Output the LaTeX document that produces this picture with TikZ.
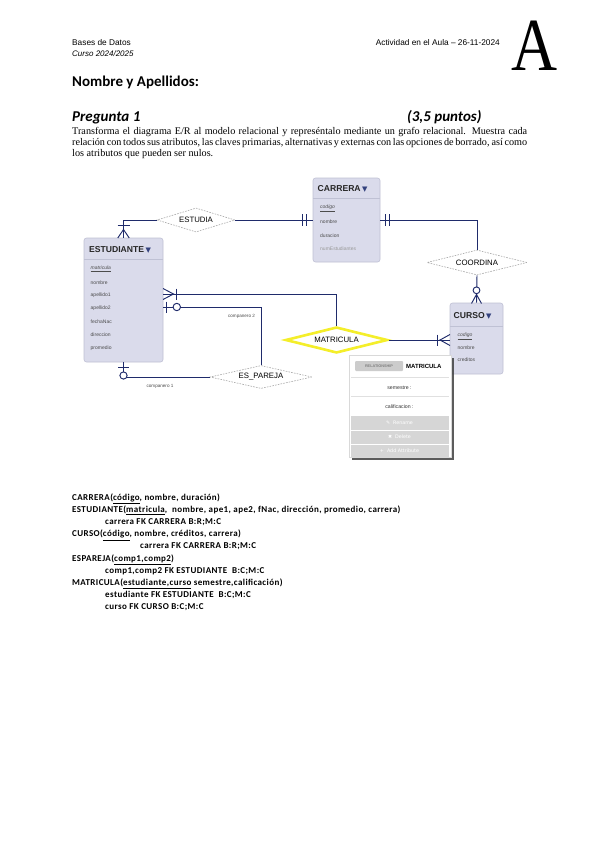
\documentclass[tikz,border=0pt]{standalone}
\usepackage{fontspec}
\setmainfont{Liberation Serif}
\newfontfamily\arialf{Liberation Sans}
\newfontfamily\calf{Carlito}
\newfontfamily\calsp[LetterSpace=4.5]{Carlito}
\newfontfamily\djv{DejaVu Sans}
\usetikzlibrary{shapes.geometric,shadows}
\definecolor{navy}{HTML}{1F2B6B}
\definecolor{entfill}{HTML}{DADBEB}
\definecolor{entdraw}{HTML}{BFC1D4}
\definecolor{dgray}{HTML}{A8A8A8}
\definecolor{yel}{HTML}{F4EE2A}
\definecolor{tri}{HTML}{34427E}
\tikzset{
  entity/.style={draw=entdraw, fill=entfill, rounded corners=2.5, inner sep=0, line width=0.6},
  rel/.style={diamond, aspect=3.3, draw=dgray, fill=white, dash pattern=on 1.6pt off 1.2pt, line width=0.6, inner sep=0, font=\arialf\fontsize{7.8}{9}\selectfont},
  relsel/.style={diamond, aspect=3.3, draw=yel, fill=white, line width=2.6, inner sep=0, font=\arialf\fontsize{7.8}{9}\selectfont},
  conn/.style={draw=navy, line width=0.95},
  cmark/.style={draw=navy, line width=0.95},
  ring/.style={draw=navy, line width=0.95, fill=white},
  ehead/.style={font=\arialf\bfseries\fontsize{8.6}{9}\selectfont, anchor=west, inner sep=0, text=black!85},
  eattr/.style={font=\arialf\fontsize{5}{6}\selectfont, anchor=west, inner sep=0, text=black!70},
  elabel/.style={font=\arialf\fontsize{4.6}{5}\selectfont, inner sep=0, text=black!70},
  rtext/.style={font=\calsp\bfseries\fontsize{9}{10}\selectfont, anchor=base west, inner sep=0},
  ptext/.style={font=\arialf\fontsize{5.2}{6}\selectfont, inner sep=0, text=black!80},
  pmenu/.style={font=\djv\fontsize{4.8}{6}\selectfont, inner sep=0, text=white}
}
\begin{document}
\begin{tikzpicture}[x=1pt,y=-1pt]
\useasboundingbox (0,0) rectangle (600,848);
\fill[white] (0,0) rectangle (600,848);

% ---------- header ----------
\node[anchor=base west, inner sep=0, font=\arialf\fontsize{8.3}{9}\selectfont] (hbd) at (72,46) {Bases de Datos};
\node[anchor=base west, inner sep=0, font=\arialf\itshape\fontsize{8}{9}\selectfont] (hcur) at (72,56.5) {Curso 2024/2025};
\node[anchor=base east, inner sep=0, font=\arialf\fontsize{8.3}{9}\selectfont] (hact) at (500,46) {Actividad en el Aula – 26-11-2024};
\node[anchor=base, inner sep=0, xscale=0.85, font=\fontsize{75}{75}\selectfont] (bigA) at (534.5,71) {A};
\node[anchor=base west, inner sep=0, font=\calf\bfseries\fontsize{15}{16}\selectfont] (nom) at (72,87) {Nombre y Apellidos:};
\node[anchor=base west, inner sep=0, font=\calf\bfseries\itshape\fontsize{15}{16}\selectfont] (preg) at (72,121.5) {Pregunta 1};
\node[anchor=base west, inner sep=0, font=\calf\bfseries\itshape\fontsize{15}{16}\selectfont] (pts) at (407,121.5) {(3,5 puntos)};
\node[anchor=north west, inner sep=0, text width=455, align=justify, font=\fontsize{10.2}{11}\selectfont] (enun) at (72,127.5)
 {Transforma el diagrama E/R al modelo relacional y represéntalo mediante un grafo relacional. Muestra cada\linebreak relación con todos sus atributos, las claves primarias, alternativas y externas con las opciones de borrado, así como\linebreak los atributos que pueden ser nulos.};

% ---------- entities ----------
\node[entity, minimum width=67, minimum height=84] (carrera) at (346.5,220) {};
\node[entity, minimum width=79, minimum height=124] (estudiante) at (123.5,300) {};
\node[entity, minimum width=53, minimum height=71] (curso) at (476.5,338.5) {};

\draw[entdraw, line width=0.5] (313,198.5) -- (380,198.5);
\draw[entdraw, line width=0.5] (84,259) -- (163,259);
\draw[entdraw, line width=0.5] (450,326) -- (503,326);

\node[ehead] (hcarrera) at (317.5,189) {CARRERA\,{\djv\color{tri}\fontsize{7}{8}\selectfont ▼}};
\node[ehead] (hestud) at (89,250) {ESTUDIANTE\,{\djv\color{tri}\fontsize{7}{8}\selectfont ▼}};
\node[ehead] (hcurso) at (453.5,316) {CURSO\,{\djv\color{tri}\fontsize{7}{8}\selectfont ▼}};

\node[eattr] (ca1) at (320,208) {\itshape\underline{codigo}};
\node[eattr] (ca2) at (320,222) {nombre};
\node[eattr] (ca3) at (320,235.5) {duracion};
\node[eattr, text=black!40] (ca4) at (320,249) {numEstudiantes};

\node[eattr] (ea1) at (90.5,269) {\itshape\underline{matricula}};
\node[eattr] (ea2) at (90.5,282.5) {nombre};
\node[eattr] (ea3) at (90.5,295.5) {apellido1};
\node[eattr] (ea4) at (90.5,308.5) {apellido2};
\node[eattr] (ea5) at (90.5,321.5) {fechaNac};
\node[eattr] (ea6) at (90.5,335) {direccion};
\node[eattr] (ea7) at (90.5,348) {promedio};

\node[eattr] (cu1) at (457.5,336.5) {\itshape\underline{codigo}};
\node[eattr] (cu2) at (457.5,348) {nombre};
\node[eattr] (cu3) at (457.5,360) {creditos};

% ---------- relationships ----------
\node[rel, minimum width=78, minimum height=24] (estudia) at (196,220) {ESTUDIA};
\node[rel, minimum width=100, minimum height=25] (coordina) at (477,262.5) {COORDINA};
\node[rel, minimum width=102, minimum height=23] (espareja) at (261,377) {ES\_PAREJA};
\node[relsel, minimum width=102, minimum height=26] (matricula) at (336.5,340) {MATRICULA};

% ---------- connectors ----------
\draw[conn] (estudia.west) -| (estudiante.north);
\draw[conn] (estudia.east) -- (carrera.west);
\draw[conn] (carrera.east) -| (coordina.north);
\draw[conn] (coordina.south) -- (curso.north);
\draw[conn] (estudiante.east |- 0,294) -| (matricula.north);
\draw[conn] (estudiante.east |- 0,307) -| (espareja.north);
\draw[conn] (estudiante.south) |- (espareja.west);
\draw[conn] (matricula.east) -- (curso.west |- matricula.east);

% ---------- cardinality marks ----------
\draw[cmark] (117.5,225.7) -- (129.5,225.7);
\draw[cmark] (117.8,238) -- (123.5,229.5) -- (129.2,238);
\draw[cmark] (302,214) -- (302,226) (306,214) -- (306,226);
\draw[cmark] (385.5,214) -- (385.5,226) (389.5,214) -- (389.5,226);
\draw[cmark] (471.5,303.5) -- (476.5,294.5) -- (481.5,303.5);
\draw[ring] (476.5,290.3) circle (3.4);
\draw[cmark] (163,288.5) -- (173.5,294) -- (163,299.5);
\draw[cmark] (176,288.5) -- (176,299.5);
\draw[cmark] (166,301.5) -- (166,312.5);
\draw[ring] (176.8,307) circle (3.7);
\draw[cmark] (118,367.3) -- (129,367.3);
\draw[ring] (123.5,375.5) circle (3.6);
\draw[cmark] (437,334.5) -- (437,345.5);
\draw[cmark] (450,334.5) -- (440,340) -- (450,345.5);

\node[elabel] (comp2) at (241.5,316.5) {companero 2};
\node[elabel] (comp1) at (160,386.5) {companero 1};

% ---------- popup ----------
\node[draw=black!15, fill=white, minimum width=102, minimum height=102, inner sep=0,
      drop shadow={shadow xshift=2.6pt, shadow yshift=-2.6pt, opacity=0.85, fill=black!75}] (popup) at (400,406) {};
\fill[black!16] (351,415.5) rectangle (449,456.5);
\draw[white, line width=0.8] (351,430) -- (449,430) (351,444) -- (449,444);
\draw[black!12, line width=0.6] (351,377.5) -- (449,377.5) (351,396.5) -- (449,396.5);
\node[fill=black!20, rounded corners=1, minimum width=48, minimum height=10, inner sep=0,
      font=\arialf\bfseries\fontsize{3.8}{4}\selectfont, text=black!50] (ptag) at (379,366) {RELATIONSHIP};
\node[ptext, font=\arialf\bfseries\fontsize{6}{7}\selectfont, text=black, anchor=west] (pname) at (406,366) {MATRICULA};
\node[ptext] (psem) at (399.5,388) {semestre :};
\node[ptext] (pcal) at (399.5,406.5) {calificacion :};
\node[pmenu] (pren) at (399.5,423) {✎\ \ Rename};
\node[pmenu] (pdel) at (399.5,437) {✖\ \ Delete};
\node[pmenu] (padd) at (399.5,450.5) {+\ \ Add Attribute};

% ---------- relational model ----------
\node[rtext] (r1) at (72,500.5) {CARRERA(\underline{código}, nombre, duración)};
\node[rtext] (r2) at (72,512.6) {ESTUDIANTE(\underline{matricula},\ \ nombre, ape1, ape2, fNac, dirección, promedio, carrera)};
\node[rtext] (r3) at (105,524.7) {carrera FK CARRERA B:R;M:C};
\node[rtext] (r4) at (72,536.8) {CURSO(\underline{código}, nombre, créditos, carrera)};
\node[rtext] (r5) at (140,548.9) {carrera FK CARRERA B:R;M:C};
\node[rtext] (r6) at (72,561) {ESPAREJA(\underline{comp1,comp2})};
\node[rtext] (r7) at (105,573.1) {comp1,comp2 FK ESTUDIANTE\ \ B:C;M:C};
\node[rtext] (r8) at (72,585.2) {MATRICULA(\underline{estudiante,curso} semestre,calificación)};
\node[rtext] (r9) at (105,597.3) {estudiante FK ESTUDIANTE\ \ B:C;M:C};
\node[rtext] (r10) at (105,609.4) {curso FK CURSO B:C;M:C};
\end{tikzpicture}
\end{document}
